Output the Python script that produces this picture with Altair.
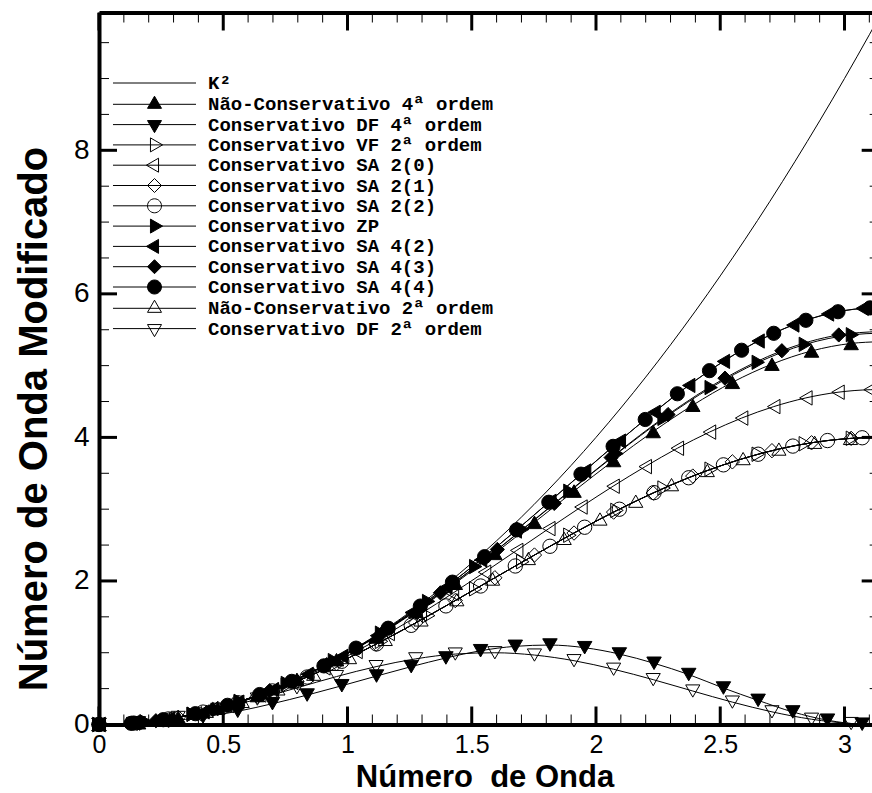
import altair as alt
import pandas as pd

# ---------------- data ----------------
K2_X = [0, 0.1, 0.2, 0.3, 0.4, 0.5, 0.6, 0.7, 0.8, 0.9, 1.0, 1.1, 1.2, 1.3, 1.4, 1.5, 1.6,
        1.7, 1.8, 1.9, 2.0, 2.1, 2.2, 2.3, 2.4, 2.5, 2.6, 2.7, 2.8, 2.9, 3.0, 3.1, 3.1416]
K2_Y = [0, 0.01, 0.04, 0.09, 0.16, 0.25, 0.36, 0.49, 0.64, 0.81, 1.0, 1.21, 1.44, 1.69, 1.96,
        2.25, 2.56, 2.89, 3.24, 3.61, 4.0, 4.41, 4.84, 5.29, 5.76, 6.25, 6.76, 7.29, 7.84, 8.41,
        9.0, 9.61, 9.87]

G13 = [0, 0.1293, 0.2586, 0.3879, 0.5172, 0.6465, 0.7758, 0.9051, 1.0344, 1.1637, 1.293, 1.4223,
       1.5516, 1.6809, 1.8102, 1.9395, 2.0688, 2.1981, 2.3274, 2.4567, 2.586, 2.7153, 2.8446,
       2.9739, 3.1032, 3.1416]
G14 = [0, 0.1396, 0.2792, 0.4188, 0.5584, 0.698, 0.8376, 0.9772, 1.1168, 1.2564, 1.396, 1.5356,
       1.6752, 1.8148, 1.9544, 2.094, 2.2336, 2.3732, 2.5128, 2.6524, 2.792, 2.9316, 3.0712, 3.1416]
G16 = [0, 0.1593, 0.3186, 0.4779, 0.6372, 0.7965, 0.9558, 1.1151, 1.2744, 1.4337, 1.593, 1.7523,
       1.9116, 2.0709, 2.2302, 2.3895, 2.5488, 2.7081, 2.8674, 3.0267, 3.1416]
G144 = [0, 0.144, 0.288, 0.432, 0.576, 0.72, 0.864, 1.008, 1.152, 1.296, 1.44, 1.584, 1.728,
        1.872, 2.016, 2.16, 2.304, 2.448, 2.592, 2.736, 2.88, 3.024, 3.1416]
G19 = [0, 0.1895, 0.379, 0.5685, 0.758, 0.9475, 1.137, 1.3265, 1.516, 1.7055, 1.895, 2.0845,
       2.274, 2.4635, 2.653, 2.8425, 3.032, 3.1416]
G23 = [0, 0.229, 0.458, 0.687, 0.916, 1.145, 1.374, 1.603, 1.832, 2.061, 2.29, 2.519, 2.748,
       2.977, 3.1416]

NC4_Y = [0, 0.0253, 0.1011, 0.2274, 0.4038, 0.629, 0.9025, 1.2198, 1.5771, 1.968, 2.3846, 2.8166,
         3.2522, 3.6785, 4.0824, 4.4488, 4.7676, 5.0207, 5.2045, 5.3092, 5.3333]
DF4_Y = [0, 0.0116, 0.046, 0.104, 0.184, 0.29, 0.41, 0.54, 0.675, 0.806, 0.927, 1.028, 1.089,
         1.107, 1.07, 0.982, 0.853, 0.696, 0.508, 0.336, 0.175, 0.06, 0.004, 0]
VF2_Y = [0, 0.0358, 0.1419, 0.3146, 0.5475, 0.832, 1.1583, 1.5163, 1.8905, 2.2685, 2.6372, 2.9832,
         3.2943, 3.5571, 3.7655, 3.9113, 3.988, 4.0]
SA20_Y = [0, 0.0167, 0.0667, 0.1495, 0.2644, 0.4103, 0.5859, 0.7889, 1.0173, 1.2676, 1.5395,
          1.8256, 2.1219, 2.4253, 2.7295, 3.03, 3.3198, 3.5931, 3.8488, 4.0739, 4.2692, 4.4291,
          4.5503, 4.6294, 4.6647, 4.6667]
SA21_Y = [0, 0.0253, 0.1007, 0.2241, 0.3923, 0.6015, 0.8469, 1.1199, 1.4157, 1.7267, 2.0444,
          2.361, 2.6675, 2.9595, 3.2247, 3.4613, 3.6593, 3.8151, 3.9252, 3.9868, 4.0]
SA22_Y = [0, 0.0195, 0.0774, 0.1729, 0.3038, 0.4676, 0.6614, 0.8811, 1.1227, 1.3816, 1.6525,
          1.9296, 2.2085, 2.4832, 2.7485, 2.9994, 3.2304, 3.4379, 3.6177, 3.7657, 3.879, 3.9561,
          3.995, 4.0]
ZP_Y = [0, 0.0359, 0.1436, 0.3229, 0.5728, 0.8907, 1.273, 1.7144, 2.2008, 2.7189, 3.2508, 3.774,
        4.2649, 4.6949, 5.046, 5.2969, 5.4308, 5.4518]
SA42_Y = [0, 0.0195, 0.0779, 0.1754, 0.3117, 0.4866, 0.70, 0.9509, 1.2382, 1.5602, 1.9135,
          2.2931, 2.6948, 3.1105, 3.5318, 3.949, 4.3497, 4.7238, 5.059, 5.343, 5.5652, 5.7189,
          5.7973, 5.8074]
SA43_Y = [0, 0.0524, 0.2097, 0.471, 0.834, 1.291, 1.8343, 2.439, 3.0801, 3.7187, 4.3187, 4.8257,
          5.2074, 5.4275, 5.4755]
SA44_Y = [0, 0.0167, 0.0669, 0.1505, 0.2674, 0.4176, 0.601, 0.8165, 1.064, 1.3413, 1.65, 1.9833,
          2.3382, 2.7117, 3.0968, 3.4879, 3.8752, 4.2496, 4.608, 4.93, 5.2144, 5.4505, 5.6318,
          5.7509, 5.8044, 5.8074]
NC2_Y = [0, 0.0207, 0.0824, 0.1837, 0.3227, 0.4964, 0.7011, 0.9329, 1.1857, 1.4574, 1.7392,
         2.0264, 2.3131, 2.5932, 2.863, 3.1115, 3.3417, 3.5391, 3.705, 3.8375, 3.932, 3.9862, 4.0]
DF2_Y = [0, 0.0252, 0.0982, 0.2116, 0.3539, 0.5109, 0.6677, 0.8062, 0.9147, 0.9815, 0.9995,
         0.9675, 0.8889, 0.7698, 0.625, 0.4664, 0.3119, 0.1763, 0.0733, 0.0131, 0]

NAMES = ["K²", "Não-Conservativo 4ª ordem", "Conservativo DF 4ª ordem",
         "Conservativo VF 2ª ordem", "Conservativo SA 2(0)", "Conservativo SA 2(1)",
         "Conservativo SA 2(2)", "Conservativo ZP", "Conservativo SA 4(2)",
         "Conservativo SA 4(3)", "Conservativo SA 4(4)", "Não-Conservativo 2ª ordem",
         "Conservativo DF 2ª ordem"]
SERIES = [(K2_X, K2_Y), (G16, NC4_Y), (G14, DF4_Y), (G19, VF2_Y), (G13, SA20_Y), (G16, SA21_Y),
          (G14, SA22_Y), (G19, ZP_Y), (G14, SA42_Y), (G23, SA43_Y), (G13, SA44_Y),
          (G144, NC2_Y), (G16, DF2_Y)]
SHAPES = [None, "triangle-up", "triangle-down", "triangle-right", "triangle-left", "diamond",
          "circle", "triangle-right", "triangle-left", "diamond", "circle", "triangle-up",
          "triangle-down"]
FILLS = [None, "black", "black", "transparent", "transparent", "transparent", "transparent",
         "black", "black", "black", "black", "transparent", "transparent"]
SIZES = [0, 210, 200, 150, 150, 170, 190, 200, 200, 180, 200, 170, 170]

# frame ticks
X_MAJOR = [0, 0.5, 1, 1.5, 2, 2.5, 3]
X_MINOR = [0, 0.1, 0.2, 0.3, 0.4, 0.5, 0.6, 0.7, 0.8, 0.9, 1.0, 1.1, 1.2, 1.3, 1.4, 1.5, 1.6,
           1.7, 1.8, 1.9, 2.0, 2.1, 2.2, 2.3, 2.4, 2.5, 2.6, 2.7, 2.8, 2.9, 3.0, 3.1]
Y_MAJOR = [0, 2, 4, 6, 8]
Y_MINOR = [0, 0.5, 1, 1.5, 2, 2.5, 3, 3.5, 4, 4.5, 5, 5.5, 6, 6.5, 7, 7.5, 8, 8.5, 9, 9.5]
K_LEFT, K_RIGHT = 0, 3.1416          # frame sides (right side lies beyond the visible area)
V_BOTTOM, V_TOP = 0, 9.92            # frame bottom / top

# ---------------- tables ----------------
rows = []
for name, (xs_, ys_) in zip(NAMES, SERIES):
    for a, b in zip(xs_, ys_):
        rows.append({"serie": name, "k": a, "v": b})
df = pd.DataFrame(rows)
df_pts = df[df["serie"] != NAMES[0]]
df_leg = pd.DataFrame({"serie": NAMES, "k": [None] * len(NAMES), "v": [None] * len(NAMES)})

MK_NAMES = NAMES[1:]
MK_SHAPES = SHAPES[1:]
MK_FILLS = FILLS[1:]
MK_SIZES = SIZES[1:]

# legend symbols: a horizontal line through the marker (units of half marker size)
LINE = "M-5.93,0L5.93,0"
PATHS = {
    None: "",
    "triangle-up": "M0,-1.155L1,0.577L-1,0.577Z",
    "triangle-down": "M0,1.155L1,-0.577L-1,-0.577Z",
    "triangle-right": "M1.155,0L-0.577,1L-0.577,-1Z",
    "triangle-left": "M-1.155,0L0.577,1L0.577,-1Z",
    "diamond": "M-1,0L0,-1L1,0L0,1Z",
    "circle": "M1,0A1,1,0,1,1,-1,0A1,1,0,1,1,1,0Z",
}
LEG_PATHS = [LINE + PATHS[s] for s in SHAPES]
LEG_FILLS = [f if f else "transparent" for f in FILLS]
LEG_STROKES = ["black"] * len(NAMES)

# ---------------- scales / axes ----------------
W, H = 773, 712
XMAX = 3.1107
XS = alt.Scale(domain=[0, XMAX], nice=False, zero=False)
YS = alt.Scale(domain=[V_BOTTOM, V_TOP], nice=False, zero=False)
FONT = "Liberation Sans"

x_lab = alt.Axis(orient="bottom", values=X_MAJOR, format="~g", ticks=False, domain=True,
                 domainColor="black", domainWidth=4, grid=False, labelFont=FONT,
                 labelFontSize=25, labelColor="black", labelPadding=8, labelFlush=False,
                 labelOverlap=False, labelBaseline="top",
                 title="Número\u00a0 de Onda", titleFont=FONT, titleFontWeight="bold",
                 titleFontSize=31, titleColor="black", titleBaseline="alphabetic",
                 titleX=W / 2 - 1, titleY=61.5)
y_lab = alt.Axis(orient="left", values=Y_MAJOR, format="~g", ticks=False, domain=True,
                 domainColor="black", domainWidth=4, grid=False, labelFont=FONT,
                 labelFontSize=28, labelColor="black", labelPadding=10, labelFlush=False,
                 labelOverlap=False,
                 title="Número de Onda Modificado", titleFont=FONT,
                 titleFontWeight="bold", titleFontSize=40, titleColor="black",
                 titleBaseline="alphabetic", titleAngle=270, titleX=-53, titleY=406)

lines = alt.Chart(df).mark_line(color="black", strokeWidth=1, interpolate="monotone").encode(
    x=alt.X("k:Q", scale=XS, axis=x_lab),
    y=alt.Y("v:Q", scale=YS, axis=y_lab),
    detail="serie:N",
)

markers = alt.Chart(df_pts).mark_point(filled=True, stroke="black", strokeWidth=1,
                                       opacity=1).encode(
    x=alt.X("k:Q", scale=XS, axis=None),
    y=alt.Y("v:Q", scale=YS, axis=None),
    shape=alt.Shape("serie:N", scale=alt.Scale(domain=MK_NAMES, range=MK_SHAPES), legend=None),
    fill=alt.Fill("serie:N", scale=alt.Scale(domain=MK_NAMES, range=MK_FILLS), legend=None),
    size=alt.Size("serie:N", scale=alt.Scale(domain=MK_NAMES, range=MK_SIZES), legend=None),
)

leg_def = alt.Legend(orient="none", legendX=46, legendY=61, title=None, padding=0,
                     labelFont="Liberation Mono", labelFontWeight="bold", labelFontSize=19,
                     labelColor="black", labelLimit=600, labelOffset=44, symbolSize=196,
                     symbolStrokeWidth=1, rowPadding=0.3, symbolOpacity=1)
legend_layer = alt.Chart(df_leg).transform_filter("isValid(datum.k)").mark_point(
    filled=True, strokeWidth=1, size=196, opacity=1).encode(
    x=alt.X("k:Q", scale=XS, axis=None),
    y=alt.Y("v:Q", scale=YS, axis=None),
    shape=alt.Shape("serie:N", scale=alt.Scale(domain=NAMES, range=LEG_PATHS), legend=leg_def),
    fill=alt.Fill("serie:N", scale=alt.Scale(domain=NAMES, range=LEG_FILLS), legend=leg_def),
    stroke=alt.Stroke("serie:N", scale=alt.Scale(domain=NAMES, range=LEG_STROKES),
                      legend=leg_def),
)


# inward frame ticks: short strokes anchored on the frame, placed through the scales
def tick_layer(ks, vs, path, length, width):
    d = pd.DataFrame({"k": ks, "v": vs})
    return alt.Chart(d).mark_point(filled=False, shape=path, size=length * length,
                                   stroke="black", strokeWidth=width, opacity=1,
                                   strokeCap="butt").encode(
        x=alt.X("k:Q", scale=XS, axis=None),
        y=alt.Y("v:Q", scale=YS, axis=None),
    )


UP, DOWN, RIGHT, LEFT = "M0,0L0,-2", "M0,0L0,2", "M0,0L2,0", "M0,0L-2,0"
tick_layers = [
    tick_layer(X_MINOR, [V_BOTTOM] * len(X_MINOR), UP, 10, 1),
    tick_layer(X_MAJOR, [V_BOTTOM] * len(X_MAJOR), UP, 18, 3),
    tick_layer(X_MINOR, [V_TOP] * len(X_MINOR), DOWN, 10, 1),
    tick_layer(X_MAJOR, [V_TOP] * len(X_MAJOR), DOWN, 18, 3),
    tick_layer([K_LEFT] * len(Y_MINOR), Y_MINOR, RIGHT, 10, 1),
    tick_layer([K_LEFT] * len(Y_MAJOR), Y_MAJOR, RIGHT, 18, 3),
    tick_layer([K_RIGHT] * len(Y_MINOR), Y_MINOR, LEFT, 10, 1),
    tick_layer([K_RIGHT] * len(Y_MAJOR), Y_MAJOR, LEFT, 18, 3),
]

top_frame = alt.Chart(pd.DataFrame({"k": X_MAJOR})).mark_point(opacity=0, size=1).encode(
    x=alt.X("k:Q", scale=XS, axis=alt.Axis(orient="top", values=X_MAJOR, labels=False,
                                           ticks=False, grid=False, title=None, domain=True,
                                           domainColor="black", domainWidth=4)),
    y=alt.value(0),
)

chart = alt.layer(lines, markers, legend_layer, *tick_layers, top_frame).resolve_scale(
    shape="independent", fill="independent", size="independent", stroke="independent"
).resolve_axis(x="independent", y="independent").properties(
    width=W, height=H,
    autosize=alt.AutoSizeParams(type="none"),
    padding={"left": 99, "top": 12.5, "right": 0, "bottom": 68.5},
).configure_view(stroke=None).configure(background="white")

chart.save("out.html", embed_options={"renderer": "svg", "actions": False})
